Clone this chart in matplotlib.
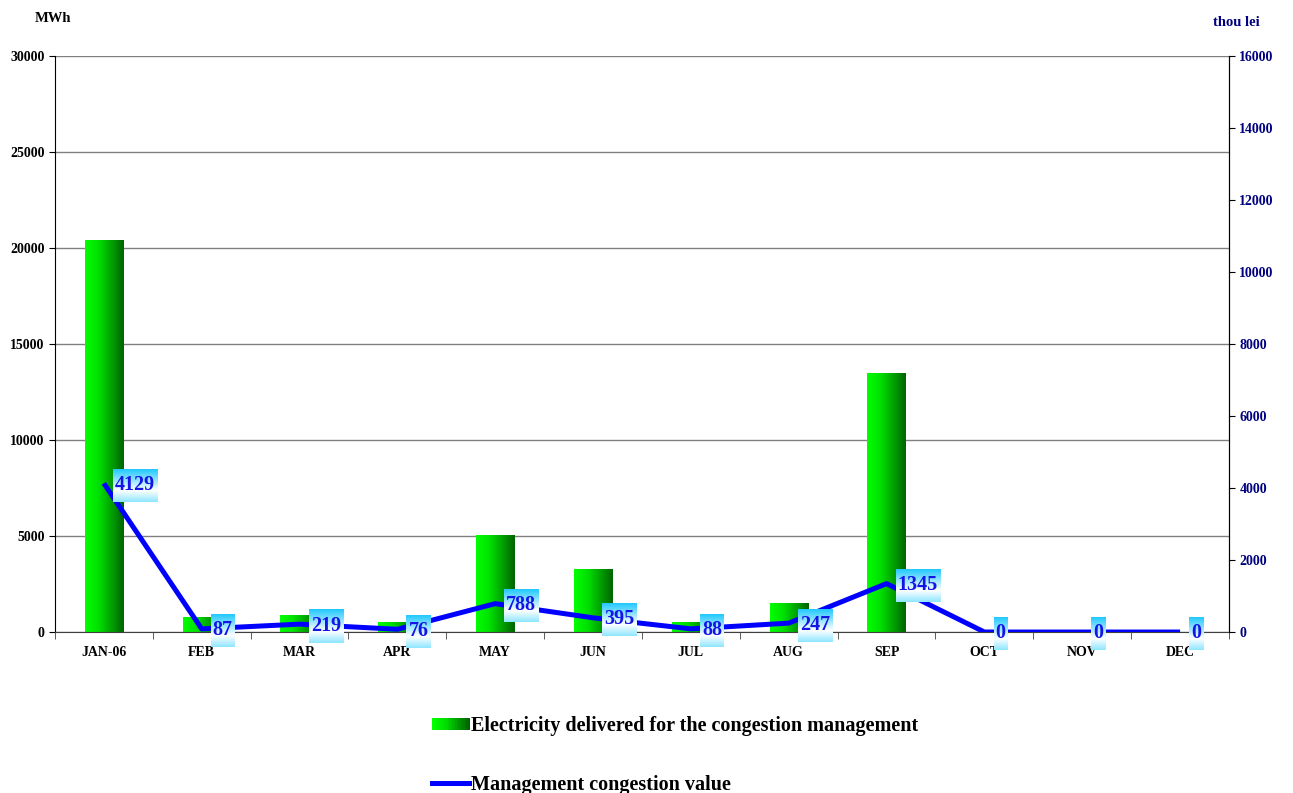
import matplotlib.pyplot as plt
import numpy as np
from matplotlib.colors import LinearSegmentedColormap
from matplotlib.legend_handler import HandlerBase
from matplotlib.lines import Line2D
from matplotlib.patches import Rectangle

months = ['JAN-06', 'FEB', 'MAR', 'APR', 'MAY', 'JUN',
          'JUL', 'AUG', 'SEP', 'OCT', 'NOV', 'DEC']
energy_mwh = [20400, 780, 880, 470, 5000, 3230, 520, 1460, 13440, 0, 0, 0]
value_thou_lei = [4129, 87, 219, 76, 788, 395, 88, 247, 1345, 0, 0, 0]

plt.rcParams['font.family'] = ['Liberation Serif', 'DejaVu Serif']
plt.rcParams['font.weight'] = 'bold'

navy = '#000080'
green_cmap = LinearSegmentedColormap.from_list(
    'bar_green', [(0, '#00ff00'), (0.35, '#00e000'), (1, '#006400')])
box_cmap = LinearSegmentedColormap.from_list(
    'box_cyan', [(0, '#20c8ff'), (0.65, '#ffffff'), (1, '#8ee6ff')])


class GradientHandler(HandlerBase):
    # legend key filled with the same horizontal green fade as the bars
    def create_artists(self, legend, orig_handle, xdescent, ydescent,
                       width, height, fontsize, trans):
        n = 24
        out = []
        for i in range(n):
            out.append(Rectangle((-xdescent + i * width / n, -ydescent + height * 0.1),
                                 width / n + 0.5, height * 0.8,
                                 facecolor=green_cmap(i / (n - 1)),
                                 edgecolor='none', transform=trans))
        return out


fig = plt.figure(figsize=(12.93, 7.93), dpi=100)
fig.subplots_adjust(left=0.0425, right=0.9505, top=0.9294, bottom=0.203)
ax = fig.add_subplot(111)
ax2 = ax.twinx()

x = np.arange(len(months))

# bars: invisible rectangles, filled afterwards with a gradient image
bars = ax.bar(x, energy_mwh, width=0.39, color='none', edgecolor='none', zorder=2)
hgrad = np.linspace(0, 1, 256).reshape(1, -1)
for b in bars:
    if b.get_height() > 0:
        ax.imshow(hgrad, cmap=green_cmap, aspect='auto', zorder=2,
                  extent=[b.get_x(), b.get_x() + b.get_width(), 0, b.get_height()])

ax.set_xlim(-0.5, len(months) - 0.5)
ax.set_ylim(0, 30000)
ax.set_yticks(np.arange(0, 30001, 5000))
ax.yaxis.grid(True, color='#808080', linewidth=1)
ax.set_axisbelow(True)
ax.set_xticks(x)
ax.set_xticklabels(months)
ax.set_xticks(np.arange(-0.5, len(months)), minor=True)
ax.tick_params(axis='x', which='major', length=0, labelsize=10, pad=10)
ax.tick_params(axis='x', which='minor', length=5, direction='out', color='#404040')
ax.tick_params(axis='y', labelsize=10, length=4, direction='out')
for lab in ax.get_xticklabels() + ax.get_yticklabels():
    lab.set_fontweight('bold')

ax.spines['top'].set_visible(False)
ax.spines['bottom'].set_color('#404040')
ax.spines['left'].set_color('black')
ax2.spines['top'].set_visible(False)
ax2.spines['left'].set_visible(False)
ax2.spines['bottom'].set_visible(False)
ax2.spines['right'].set_color('black')

# congestion value line on the right axis
ax2.plot(x, value_thou_lei, color='#0000ff', linewidth=3.6, zorder=3,
         solid_capstyle='butt')
ax2.set_ylim(0, 16000)
ax2.set_yticks(np.arange(0, 16001, 2000))
ax2.tick_params(axis='y', labelsize=10, length=4, direction='out',
                colors=navy, labelcolor=navy)
ax2.tick_params(axis='y', color='black')
for lab in ax2.get_yticklabels():
    lab.set_fontweight('bold')

labels = []
for xi, v in zip(x, value_thou_lei):
    t = ax2.annotate(str(v), (xi, v), xytext=(8, -1), textcoords='offset points',
                     ha='left', va='center', fontsize=14.5, fontweight='bold',
                     color='#1414e6', zorder=6, annotation_clip=False)
    labels.append(t)

fig.text(53 / 1293, 1 - 18 / 793, 'MWh', ha='center', va='center',
         fontsize=10.5, fontweight='bold')
fig.text(1236 / 1293, 1 - 22 / 793, 'thou lei', ha='center', va='center',
         fontsize=10.5, fontweight='bold', color=navy)

handles = [Rectangle((0, 0), 1, 1), Line2D([], [], color='#0000ff', linewidth=3.6)]
fig.legend(handles,
           ['Electricity delivered for the congestion management',
            'Management congestion value'],
           handler_map={Rectangle: GradientHandler()},
           loc='upper left', bbox_to_anchor=(432 / 1293, 1 - 716 / 793),
           frameon=False, prop={'weight': 'bold', 'size': 14.5},
           handlelength=1.85, handletextpad=0.1, labelspacing=1.95,
           borderpad=0, borderaxespad=0)

# gradient boxes behind the value labels, sized from the rendered text
fig.canvas.draw()
renderer = fig.canvas.get_renderer()
vgrad = np.linspace(0, 1, 128).reshape(-1, 1)
inv = ax2.transData.inverted()
for t in labels:
    bb = t.get_window_extent(renderer)
    (x0, y0) = inv.transform((bb.x0 - 2, bb.y0 - 7))
    (x1, y1) = inv.transform((bb.x1 + 2, bb.y1 + 6))
    im = ax2.imshow(vgrad, cmap=box_cmap, aspect='auto', zorder=5,
                    extent=[x0, x1, y0, y1], origin='upper')
    im.set_clip_on(False)

ax2.set_xlim(-0.5, len(months) - 0.5)
ax2.set_ylim(0, 16000)

fig.savefig('out.png', dpi=100)
